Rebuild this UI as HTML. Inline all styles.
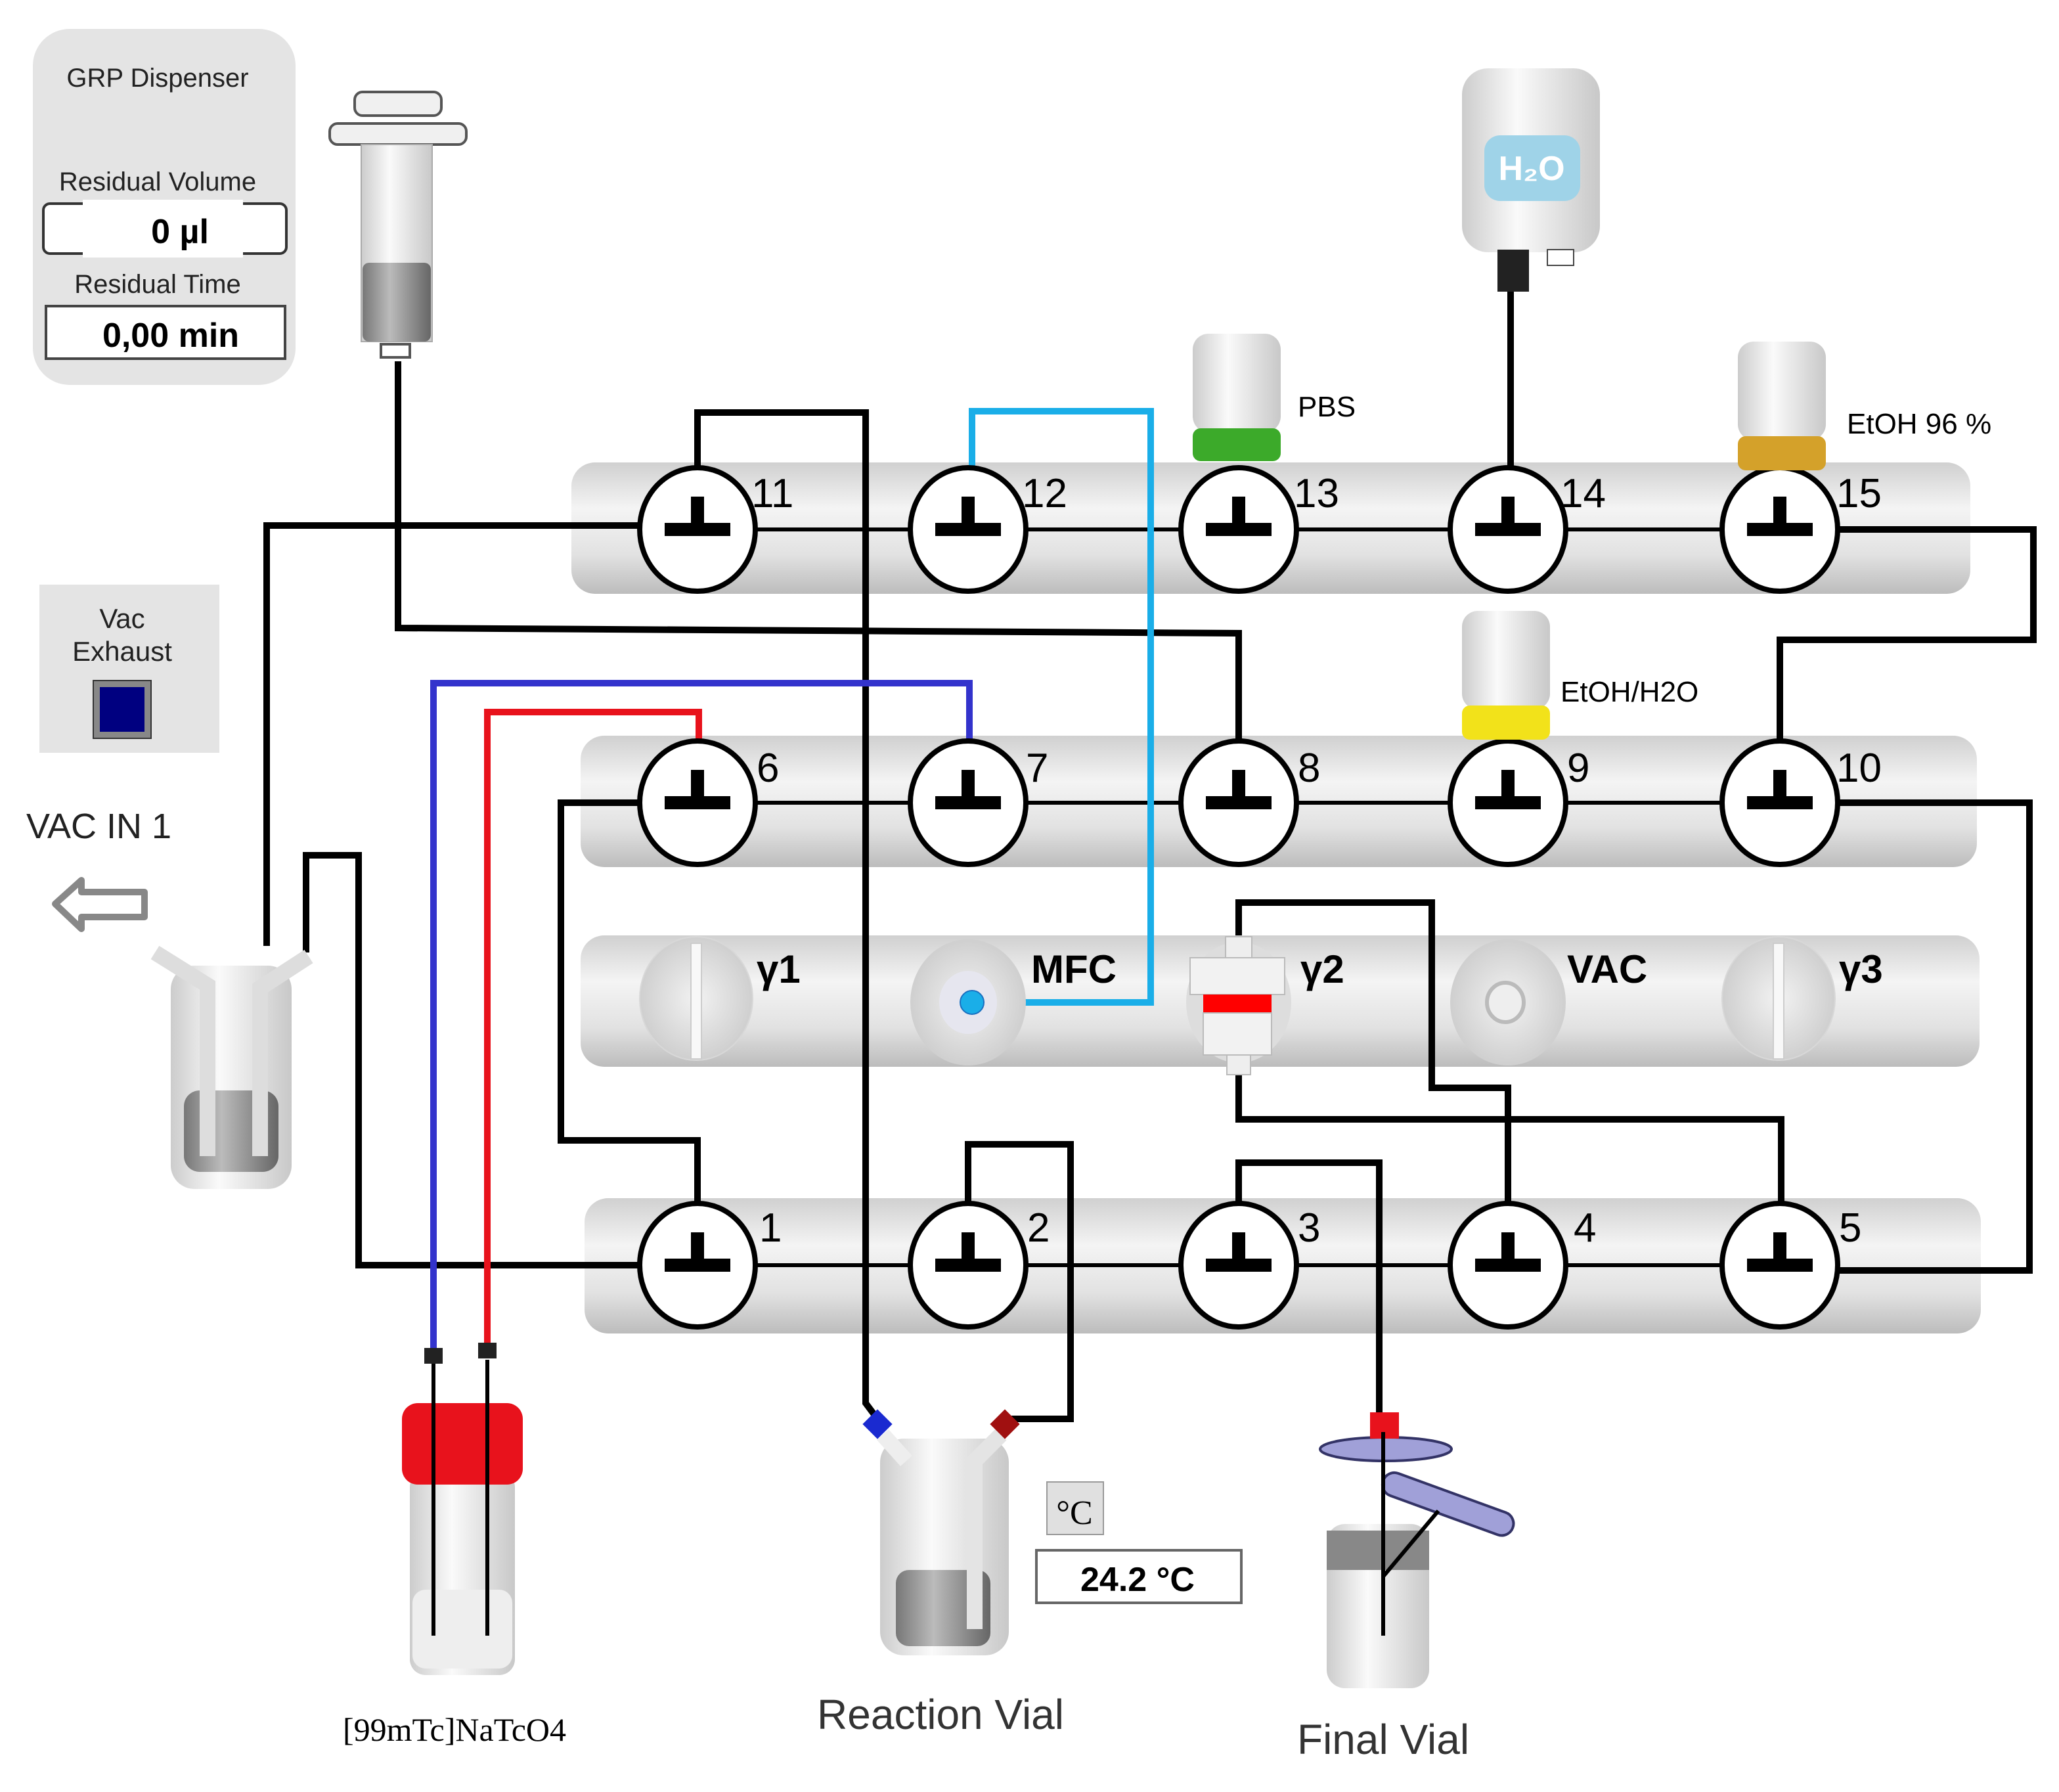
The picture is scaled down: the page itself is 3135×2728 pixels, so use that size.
<!DOCTYPE html>
<html><head><meta charset="utf-8"><style>
html,body{margin:0;padding:0;background:#fff}
svg{display:block}
text{font-family:"Liberation Sans",sans-serif}
</style></head><body>
<svg width="3135" height="2728" viewBox="0 0 1567.5 1364" xmlns="http://www.w3.org/2000/svg">
<defs>
<linearGradient id="bar" x1="0" y1="0" x2="0" y2="1">
<stop offset="0" stop-color="#d0d0d0"/><stop offset="0.35" stop-color="#f4f4f4"/><stop offset="0.7" stop-color="#e2e2e2"/><stop offset="1" stop-color="#bcbcbc"/></linearGradient>
<linearGradient id="glass" x1="0" y1="0" x2="1" y2="0">
<stop offset="0" stop-color="#ccc"/><stop offset="0.4" stop-color="#fafafa"/><stop offset="1" stop-color="#c8c8c8"/></linearGradient>
<linearGradient id="liq" x1="0" y1="0" x2="1" y2="0">
<stop offset="0" stop-color="#777"/><stop offset="0.4" stop-color="#bbb"/><stop offset="1" stop-color="#666"/></linearGradient>
<radialGradient id="knob"><stop offset="0" stop-color="#f2f2f2"/><stop offset="1" stop-color="#cfcfcf"/></radialGradient>
</defs>

<rect x="25" y="22" width="200" height="271" rx="28" fill="#e4e4e4"/>
<text x="120" y="66" font-size="20" text-anchor="middle" fill="#222">GRP Dispenser</text>
<text x="120" y="145" font-size="20" text-anchor="middle" fill="#222">Residual Volume</text>
<rect x="33" y="155" width="185" height="38" rx="5" fill="#fff" stroke="#333" stroke-width="2"/>
<rect x="63" y="152" width="122" height="44" fill="#fff"/>
<text x="137" y="185" font-size="26" font-weight="bold" text-anchor="middle">0 µl</text>
<text x="120" y="223" font-size="20" text-anchor="middle" fill="#222">Residual Time</text>
<rect x="35" y="233" width="182" height="40" fill="#fff" stroke="#444" stroke-width="2"/>
<text x="130" y="264" font-size="26" font-weight="bold" text-anchor="middle">0,00 min</text>

<rect x="30" y="445" width="137" height="128" fill="#e4e4e4"/>
<text x="93" y="478" font-size="21" text-anchor="middle" fill="#222">Vac</text>
<text x="93" y="503" font-size="21" text-anchor="middle" fill="#222">Exhaust</text>
<rect x="71" y="518" width="44" height="44" fill="#888" stroke="#333"/>
<rect x="76" y="523" width="34" height="34" fill="#000080"/>
<text x="20" y="638" font-size="27" fill="#222">VAC IN 1</text>
<path d="M42 688 L62 670 L62 679 L110 679 L110 698 L62 698 L62 707 Z" fill="#fff" stroke="#888" stroke-width="5" stroke-linejoin="round"/>

<rect x="435" y="352" width="1065" height="100" rx="18" fill="url(#bar)"/>
<rect x="442" y="560" width="1063" height="100" rx="18" fill="url(#bar)"/>
<rect x="442" y="712" width="1065" height="100" rx="18" fill="url(#bar)"/>
<rect x="445" y="912" width="1063" height="103" rx="18" fill="url(#bar)"/>

<g stroke="#000" stroke-width="3">
<line x1="531" y1="403" x2="1355" y2="403"/>
<line x1="531" y1="611" x2="1355" y2="611"/>
<line x1="531" y1="963" x2="1355" y2="963"/>
</g>

<g fill="none" stroke="#000" stroke-width="5" stroke-linejoin="miter">
<polyline points="531,360 531,314 659,314 659,1068 668,1080"/>
<polyline points="487,400 203,400 203,720"/>
<polyline points="303,275 303,478 943,482 943,566"/>
<polyline points="487,611 427,611 427,868 531,868 531,918"/>
<polyline points="737,918 737,871 815,871 815,1080 770,1080"/>
<polyline points="943,918 943,885 1050,885 1050,1080"/>
<polyline points="943,712 943,687 1090,687 1090,828 1148,828 1148,918"/>
<polyline points="943,812 943,852 1356,852 1356,918"/>
<polyline points="1400,403 1548,403 1548,487 1355,487 1355,566"/>
<polyline points="1400,611 1545,611 1545,967 1400,967"/>
<polyline points="487,963 273,963 273,651 233,651 233,725"/>
<polyline points="1150,358 1150,220"/>
</g>
<polyline points="740,358 740,313 876,313 876,763 740,763" fill="none" stroke="#1aaee8" stroke-width="5"/>
<polyline points="738,566 738,520 330,520 330,1030" fill="none" stroke="#3333cc" stroke-width="5"/>
<polyline points="532,566 532,542 371,542 371,1030" fill="none" stroke="#e8121c" stroke-width="5"/>

<g stroke="#000" stroke-width="4" fill="#fff">
<ellipse cx="531" cy="403" rx="44" ry="47"/><ellipse cx="737" cy="403" rx="44" ry="47"/><ellipse cx="943" cy="403" rx="44" ry="47"/><ellipse cx="1148" cy="403" rx="44" ry="47"/><ellipse cx="1355" cy="403" rx="44" ry="47"/>
<ellipse cx="531" cy="611" rx="44" ry="47"/><ellipse cx="737" cy="611" rx="44" ry="47"/><ellipse cx="943" cy="611" rx="44" ry="47"/><ellipse cx="1148" cy="611" rx="44" ry="47"/><ellipse cx="1355" cy="611" rx="44" ry="47"/>
<ellipse cx="531" cy="963" rx="44" ry="47"/><ellipse cx="737" cy="963" rx="44" ry="47"/><ellipse cx="943" cy="963" rx="44" ry="47"/><ellipse cx="1148" cy="963" rx="44" ry="47"/><ellipse cx="1355" cy="963" rx="44" ry="47"/>
</g>
<g fill="#000">
<path d="M526 378h10v20h20v10h-50v-10h20z"/>
<path d="M526 378h10v20h20v10h-50v-10h20z" transform="translate(206,0)"/>
<path d="M526 378h10v20h20v10h-50v-10h20z" transform="translate(412,0)"/>
<path d="M526 378h10v20h20v10h-50v-10h20z" transform="translate(617,0)"/>
<path d="M526 378h10v20h20v10h-50v-10h20z" transform="translate(824,0)"/>
<path d="M526 378h10v20h20v10h-50v-10h20z" transform="translate(0,208)"/>
<path d="M526 378h10v20h20v10h-50v-10h20z" transform="translate(206,208)"/>
<path d="M526 378h10v20h20v10h-50v-10h20z" transform="translate(412,208)"/>
<path d="M526 378h10v20h20v10h-50v-10h20z" transform="translate(617,208)"/>
<path d="M526 378h10v20h20v10h-50v-10h20z" transform="translate(824,208)"/>
<path d="M526 378h10v20h20v10h-50v-10h20z" transform="translate(0,560)"/>
<path d="M526 378h10v20h20v10h-50v-10h20z" transform="translate(206,560)"/>
<path d="M526 378h10v20h20v10h-50v-10h20z" transform="translate(412,560)"/>
<path d="M526 378h10v20h20v10h-50v-10h20z" transform="translate(617,560)"/>
<path d="M526 378h10v20h20v10h-50v-10h20z" transform="translate(824,560)"/>
</g>
<g font-size="31" fill="#000">
<text x="572" y="386">11</text><text x="778" y="386">12</text><text x="985" y="386">13</text><text x="1188" y="386">14</text><text x="1398" y="386">15</text>
<text x="576" y="595">6</text><text x="781" y="595">7</text><text x="988" y="595">8</text><text x="1193" y="595">9</text><text x="1398" y="595">10</text>
<text x="578" y="945">1</text><text x="782" y="945">2</text><text x="988" y="945">3</text><text x="1198" y="945">4</text><text x="1400" y="945">5</text>
</g>

<ellipse cx="530" cy="760" rx="43" ry="47" fill="url(#knob)" stroke="#d8d8d8"/>
<rect x="526" y="718" width="8" height="88" fill="#f8f8f8" stroke="#ccc"/>
<ellipse cx="1354" cy="760" rx="43" ry="47" fill="url(#knob)" stroke="#d8d8d8"/>
<rect x="1350" y="718" width="8" height="88" fill="#f8f8f8" stroke="#ccc"/>
<ellipse cx="737" cy="763" rx="44" ry="48" fill="url(#knob)"/>
<ellipse cx="737" cy="763" rx="22" ry="24" fill="#e6e6ef"/>
<circle cx="740" cy="763" r="9" fill="#1aaee8" stroke="#1a70c0"/>
<ellipse cx="1148" cy="763" rx="44" ry="48" fill="url(#knob)"/>
<ellipse cx="1146" cy="763" rx="14" ry="15" fill="#eee" stroke="#bbb" stroke-width="3"/>
<ellipse cx="943" cy="763" rx="40" ry="46" fill="#ddd"/>
<rect x="933" y="713" width="20" height="18" fill="#eee" stroke="#bbb"/>
<rect x="906" y="729" width="72" height="28" fill="#f2f2f2" stroke="#bbb"/>
<rect x="916" y="757" width="52" height="14" fill="#f00"/>
<rect x="916" y="771" width="52" height="32" fill="#f2f2f2" stroke="#bbb"/>
<rect x="934" y="803" width="18" height="15" fill="#eee" stroke="#bbb"/>
<g font-size="30" font-weight="bold" fill="#000">
<text x="576" y="748">γ1</text><text x="785" y="748">MFC</text><text x="990" y="748">γ2</text><text x="1193" y="748">VAC</text><text x="1400" y="748">γ3</text>
</g>

<rect x="270" y="70" width="66" height="18" rx="6" fill="#f0f0f0" stroke="#555" stroke-width="2"/>
<rect x="251" y="94" width="104" height="16" rx="6" fill="#f0f0f0" stroke="#555" stroke-width="2"/>
<rect x="275" y="110" width="54" height="150" fill="url(#glass)" stroke="#aaa"/>
<rect x="276" y="200" width="52" height="60" rx="5" fill="url(#liq)"/>
<rect x="290" y="262" width="22" height="10" fill="#fff" stroke="#555" stroke-width="2"/>

<rect x="1113" y="52" width="105" height="140" rx="20" fill="url(#glass)"/>
<rect x="1130" y="103" width="73" height="50" rx="12" fill="#9fd3e8"/>
<text x="1166" y="137" font-size="26" font-weight="bold" text-anchor="middle" fill="#fff">H₂O</text>
<rect x="1140" y="190" width="24" height="32" fill="#222"/>
<rect x="1178" y="190" width="20" height="12" fill="#fff" stroke="#444"/>

<rect x="908" y="254" width="67" height="75" rx="12" fill="url(#glass)"/>
<rect x="908" y="326" width="67" height="25" rx="6" fill="#3caa2a"/>
<text x="988" y="317" font-size="22">PBS</text>
<rect x="1323" y="260" width="67" height="75" rx="12" fill="url(#glass)"/>
<rect x="1323" y="332" width="67" height="26" rx="6" fill="#d4a12a"/>
<text x="1406" y="330" font-size="22">EtOH 96 %</text>
<rect x="1113" y="465" width="67" height="75" rx="12" fill="url(#glass)"/>
<rect x="1113" y="537" width="67" height="26" rx="6" fill="#f2e21a"/>
<text x="1188" y="534" font-size="22">EtOH/H2O</text>

<rect x="130" y="735" width="92" height="170" rx="18" fill="url(#glass)"/>
<rect x="140" y="830" width="72" height="62" rx="12" fill="url(#liq)"/>
<path d="M118 725 L158 750 L158 880" fill="none" stroke="#ddd" stroke-width="12"/>
<path d="M235 728 L198 752 L198 880" fill="none" stroke="#ddd" stroke-width="12"/>

<rect x="312" y="1120" width="80" height="155" rx="12" fill="url(#glass)"/>
<rect x="314" y="1210" width="76" height="60" rx="10" fill="#eee"/>
<rect x="306" y="1068" width="92" height="62" rx="12" fill="#e8121c"/>
<line x1="330" y1="1035" x2="330" y2="1245" stroke="#000" stroke-width="3"/>
<line x1="371" y1="1035" x2="371" y2="1245" stroke="#000" stroke-width="3"/>
<rect x="323" y="1026" width="14" height="12" fill="#222"/>
<rect x="364" y="1022" width="14" height="12" fill="#222"/>
<text x="346" y="1325" font-size="25" text-anchor="middle" style="font-family:'Liberation Serif',serif">[99mTc]NaTcO4</text>

<rect x="670" y="1095" width="98" height="165" rx="18" fill="url(#glass)"/>
<rect x="682" y="1195" width="72" height="58" rx="10" fill="url(#liq)"/>
<path d="M672 1092 L690 1112" stroke="#eee" stroke-width="12"/>
<path d="M762 1092 L742 1112 L742 1240" fill="none" stroke="#e4e4e4" stroke-width="12"/>
<rect x="660" y="1076" width="16" height="16" fill="#1a2ad0" transform="rotate(45 668 1084)"/>
<rect x="757" y="1076" width="16" height="16" fill="#a01010" transform="rotate(45 765 1084)"/>
<text x="716" y="1316" font-size="32" text-anchor="middle" fill="#333">Reaction Vial</text>
<rect x="797" y="1128" width="43" height="40" fill="#e0e0e0" stroke="#999"/>
<text x="818" y="1160" font-size="26" text-anchor="middle" style="font-family:'Liberation Serif',serif">°C</text>
<rect x="789" y="1180" width="156" height="40" fill="#fff" stroke="#666" stroke-width="2"/>
<text x="866" y="1211" font-size="26" font-weight="bold" text-anchor="middle">24.2 °C</text>

<rect x="1010" y="1160" width="78" height="125" rx="14" fill="url(#glass)"/>
<rect x="1010" y="1165" width="78" height="30" fill="#888"/>
<ellipse cx="1055" cy="1103" rx="50" ry="9" fill="#a0a0d8" stroke="#336" stroke-width="2"/>
<rect x="1043" y="1075" width="22" height="20" fill="#e8121c"/>
<rect x="1050" y="1135" width="105" height="18" rx="9" fill="#a0a0d8" stroke="#336" stroke-width="2" transform="rotate(20 1100 1144)"/>
<line x1="1053" y1="1090" x2="1053" y2="1245" stroke="#000" stroke-width="3"/>
<line x1="1053" y1="1200" x2="1095" y2="1150" stroke="#000" stroke-width="3"/>
<text x="1053" y="1335" font-size="32" text-anchor="middle" fill="#333">Final Vial</text>
</svg>
</body></html>
